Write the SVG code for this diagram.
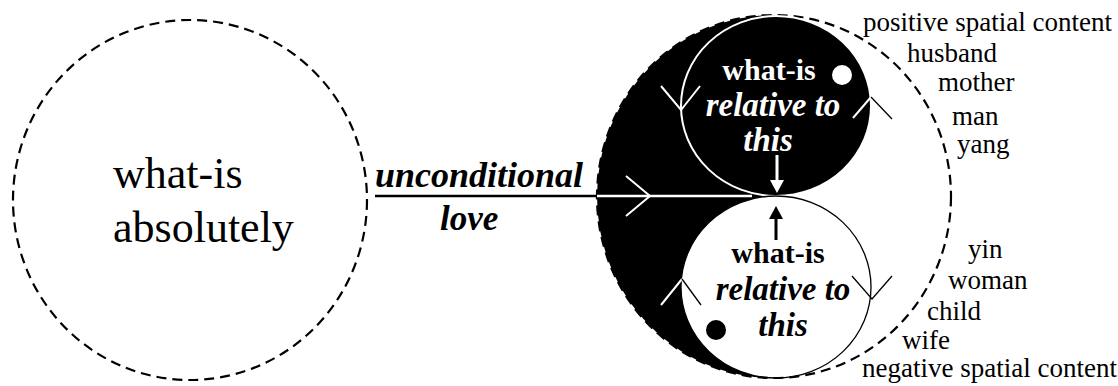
<svg xmlns="http://www.w3.org/2000/svg" width="1118" height="386" viewBox="0 0 1118 386">
<style>
.serif{font-family:"Liberation Serif","Times New Roman",serif}
.lbl{font-family:"Liberation Serif","Times New Roman",serif;font-size:27px;fill:#000}
.dash{fill:none;stroke:#000;stroke-width:2.2;stroke-dasharray:10 6}
.bi{font-family:"Liberation Serif","Times New Roman",serif;font-weight:bold;font-style:italic}
.b{font-family:"Liberation Serif","Times New Roman",serif;font-weight:bold}
</style>
<rect width="1118" height="386" fill="#fff"/>
<g id="absolute">
  <ellipse class="dash" cx="190" cy="200" rx="177" ry="180"/>
  <text class="serif" x="113" y="188" font-size="44">what-is</text>
  <text class="serif" x="113" y="242" font-size="44">absolutely</text>
</g>
<g id="yinyang">
  <path d="M774,15 A177 181.5 0 0 0 774,378 L776,378 A95 91 0 0 1 776,196 A95 90 0 0 0 776,16 Z" fill="#000"/>
  <ellipse class="dash" cx="774" cy="196.5" rx="177" ry="181.5"/>
</g>
<g id="yang-circle">
  <ellipse cx="776" cy="106" rx="95" ry="90" fill="none" stroke="#fff" stroke-width="2"/>
  <circle cx="842" cy="75" r="10" fill="#fff"/>
  <text class="b" x="769" y="80" font-size="30" fill="#fff" text-anchor="middle">what-is</text>
  <text class="bi" x="773" y="116" font-size="33" fill="#fff" text-anchor="middle">relative to</text>
  <text class="bi" x="768" y="151" font-size="33" fill="#fff" text-anchor="middle">this</text>
</g>
<g id="yin-circle">
  <ellipse cx="776" cy="287" rx="95" ry="91" fill="none" stroke="#000" stroke-width="1.3"/>
  <circle cx="716" cy="330" r="10" fill="#000"/>
  <text class="b" x="778" y="263" font-size="30" fill="#000" text-anchor="middle">what-is</text>
  <text class="bi" x="783" y="300" font-size="33" fill="#000" text-anchor="middle">relative to</text>
  <text class="bi" x="783" y="336" font-size="33" fill="#000" text-anchor="middle">this</text>
</g>
<g id="labels-yang">
  <text class="lbl" x="863" y="31">positive spatial content</text>
  <text class="lbl" x="907" y="62">husband</text>
  <text class="lbl" x="938" y="91">mother</text>
  <text class="lbl" x="952" y="125">man</text>
  <text class="lbl" x="957" y="153">yang</text>
</g>
<g id="labels-yin">
  <text class="lbl" x="968" y="258">yin</text>
  <text class="lbl" x="948" y="289">woman</text>
  <text class="lbl" x="927" y="320">child</text>
  <text class="lbl" x="902" y="349">wife</text>
  <text class="lbl" x="862" y="377">negative spatial content</text>
</g>
<g id="love-label">
  <text class="bi" x="375" y="187" font-size="36">unconditional</text>
  <text class="bi" x="440" y="230" font-size="35">love</text>
</g>
<g id="connectors">
  <line x1="375" y1="196" x2="597" y2="196" stroke="#000" stroke-width="2.5"/>
  <line x1="597" y1="196" x2="752" y2="196" stroke="#fff" stroke-width="2.5"/>
  <polyline points="626,176 650,196 626,216" fill="none" stroke="#fff" stroke-width="2"/>
  <line x1="777" y1="155" x2="777" y2="182" stroke="#fff" stroke-width="3"/>
  <polygon points="770,180 784,180 777,193" fill="#fff"/>
  <line x1="776" y1="217" x2="776" y2="240" stroke="#000" stroke-width="3"/>
  <polygon points="769,219 783,219 776,206" fill="#000"/>
  <polyline points="661,86 681,110 700,86" fill="none" stroke="#fff" stroke-width="2"/>
  <line x1="853" y1="118" x2="871" y2="97" stroke="#fff" stroke-width="2"/>
  <line x1="871" y1="97" x2="892" y2="119" stroke="#000" stroke-width="1.3"/>
  <line x1="661" y1="305" x2="682" y2="279" stroke="#fff" stroke-width="2"/>
  <line x1="682" y1="279" x2="701" y2="305" stroke="#000" stroke-width="1.3"/>
  <polyline points="852,276 872,299 892,276" fill="none" stroke="#000" stroke-width="1.3"/>
</g>
</svg>
